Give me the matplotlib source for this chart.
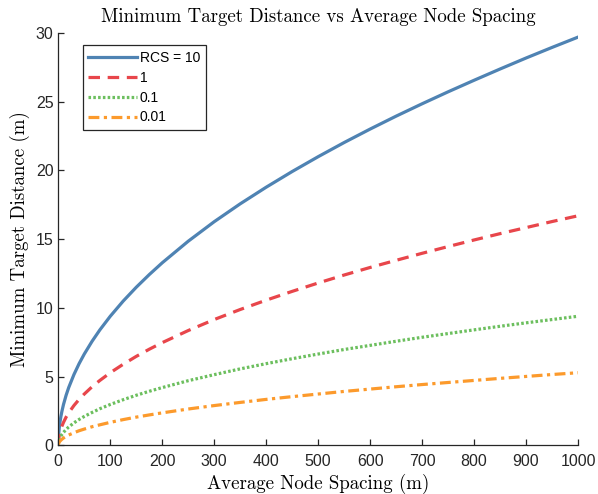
import numpy as np
import matplotlib
matplotlib.use('Agg')
import matplotlib.pyplot as plt

# valeurs
spacing = [0, 0.5, 1, 2, 3, 5, 7, 10, 15, 20, 30, 40, 50, 65, 80, 100, 125, 150, 175, 200,
           250, 300, 350, 400, 450, 500, 550, 600, 650, 700, 750, 800, 850, 900, 950, 1000]
d_rcs10 = [0, 0.66, 0.94, 1.33, 1.63, 2.10, 2.48, 2.97, 3.64, 4.20, 5.14, 5.94, 6.64, 7.57, 8.40, 9.39, 10.50, 11.50, 12.42, 13.28,
           14.85, 16.27, 17.57, 18.78, 19.92, 21.00, 22.03, 23.01, 23.95, 24.85, 25.72, 26.56, 27.38, 28.18, 28.95, 29.70]
d_rcs1 = [0, 0.37, 0.53, 0.75, 0.91, 1.18, 1.40, 1.67, 2.05, 2.36, 2.89, 3.34, 3.73, 4.26, 4.72, 5.28, 5.90, 6.47, 6.99, 7.47,
          8.35, 9.15, 9.88, 10.56, 11.20, 11.81, 12.39, 12.94, 13.46, 13.97, 14.46, 14.94, 15.40, 15.84, 16.28, 16.70]
d_rcs01 = [0, 0.21, 0.30, 0.42, 0.51, 0.66, 0.79, 0.94, 1.15, 1.33, 1.63, 1.88, 2.10, 2.39, 2.66, 2.97, 3.32, 3.64, 3.93, 4.20,
           4.70, 5.14, 5.56, 5.94, 6.30, 6.64, 6.97, 7.27, 7.57, 7.86, 8.13, 8.40, 8.66, 8.91, 9.15, 9.39]
d_rcs001 = [0, 0.12, 0.17, 0.24, 0.29, 0.37, 0.44, 0.53, 0.65, 0.75, 0.91, 1.06, 1.18, 1.35, 1.49, 1.67, 1.87, 2.05, 2.21, 2.36,
            2.64, 2.89, 3.12, 3.34, 3.54, 3.73, 3.92, 4.09, 4.26, 4.42, 4.57, 4.72, 4.87, 5.01, 5.15, 5.28]
labels = ['RCS = 10', '1', '0.1', '0.01']

xticks = [0, 100, 200, 300, 400, 500, 600, 700, 800, 900, 1000]
yticks = [0, 5, 10, 15, 20, 25, 30]

fig = plt.figure(figsize=(5.98, 4.94), dpi=100)
ax = fig.add_axes([0.0975, 0.0986, 0.8691, 0.8346])

ax.plot(spacing, d_rcs10, color='#4f83b3', lw=2.3, ls='-', label=labels[0])
ax.plot(spacing, d_rcs1, color='#e8464b', lw=2.3, ls=(0, (3.6, 2.4)), label=labels[1])
ax.plot(spacing, d_rcs01, color='#6cbf5e', lw=2.3, ls=(0, (0.8, 0.7)), label=labels[2])
ax.plot(spacing, d_rcs001, color='#fc9a2c', lw=2.3, ls=(0, (3.4, 1.4, 1.0, 1.4)), label=labels[3])

ax.set_xlim(0, 1000)
ax.set_ylim(0, 30)
ax.set_xticks(xticks)
ax.set_yticks(yticks)
for s in ['top', 'right']:
    ax.spines[s].set_visible(False)
for s in ['left', 'bottom']:
    ax.spines[s].set_color('#262626')
    ax.spines[s].set_linewidth(0.9)
ax.tick_params(direction='in', length=4, width=0.9, color='#262626', labelcolor='#262626', labelsize=11.5)
ax.tick_params(axis='x', pad=6)
for lab in ax.get_xticklabels() + ax.get_yticklabels():
    lab.set_family('Liberation Sans')

ax.set_title('Minimum Target Distance vs Average Node Spacing', family='cmr10', fontsize=13.6, pad=8)
ax.set_xlabel('Average Node Spacing (m)', family='cmr10', fontsize=13.6, labelpad=4)
ax.set_ylabel('Minimum Target Distance (m)', family='cmr10', fontsize=13.6, labelpad=4)

leg = ax.legend(loc='upper left', bbox_to_anchor=(0.0470, 0.970), prop={'family': 'Liberation Sans', 'size': 10},
                frameon=True, fancybox=False, framealpha=1, edgecolor='#262626', handlelength=3.5,
                handletextpad=0.2, labelspacing=0.42, borderpad=0.4, borderaxespad=0)
leg.get_frame().set_linewidth(0.9)

plt.savefig('out.png', dpi=100)
